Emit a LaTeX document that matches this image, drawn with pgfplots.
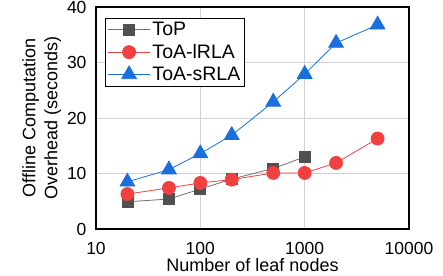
\documentclass[border=0pt]{standalone}
\usepackage{pgfplots}
\pgfplotsset{compat=1.18}
\usepackage{fontspec}
\setmainfont{Liberation Sans}
\definecolor{cTop}{HTML}{505050}
\definecolor{cTopL}{HTML}{707070}
\definecolor{cRed}{HTML}{F04040}
\definecolor{cBlue}{HTML}{1A6FDF}
\begin{document}
\begin{tikzpicture}[font=\fontsize{17.5}{21}\selectfont]
\begin{axis}[
  scale only axis, width=313pt, height=222pt,
  xmode=log, xmin=10, xmax=10000, ymin=0, ymax=40,
  xtick={10,100,1000,10000}, xticklabels={10,100,1000,10000},
  ytick={0,10,20,30,40},
  /pgf/number format/assume math mode=true,
  major tick length=0pt, minor tick length=0pt,
  xminorgrids=false, grid=major,
  major grid style={gray!35, line width=0.8pt},
  axis line style={black, line width=1.6pt},
  xticklabel style={anchor=base, yshift=-25pt, inner sep=0pt},
  yticklabel style={xshift=-6pt},
  xlabel={Number of leaf nodes},
  xlabel style={at={(axis description cs:0.5,0)}, anchor=base, yshift=-42pt, inner sep=0pt, font=\fontsize{18}{21}\selectfont},
  ylabel={Offline Computation\\Overhead (seconds)},
  ylabel style={align=center, yshift=-1pt, font=\fontsize{18}{22}\selectfont},
  legend style={at={(0.03,0.95)}, anchor=north west, draw=black, line width=0.6pt,
    nodes={font=\fontsize{19.5}{23}\selectfont}, inner sep=2pt, row sep=3pt},
  legend cell align=left,
  legend image code/.code={\draw[mark repeat=2,mark phase=2] plot coordinates {(0pt,0pt) (21pt,0pt) (42pt,0pt)};},
]
\addplot[color=cTopL, line width=0.8pt, mark=square*, mark size=5.5pt, mark options={fill=cTop, draw=cTop}]
  coordinates {(20,4.9) (50,5.4) (100,7.2) (200,9.0) (500,10.9) (1000,13.0)};
\addlegendentry{ToP}
\addplot[color=cRed, line width=0.8pt, mark=*, mark size=6.5pt, mark options={fill=cRed, draw=cRed}]
  coordinates {(20,6.3) (50,7.4) (100,8.3) (200,8.9) (500,10.1) (1000,10.1) (2000,11.9) (5000,16.3)};
\addlegendentry{ToA-lRLA}
\addplot[color=cBlue, line width=0.8pt, mark=triangle*, mark size=8.5pt, mark options={fill=cBlue, draw=cBlue}]
  coordinates {(20,8.5) (50,10.7) (100,13.6) (200,16.9) (500,22.9) (1000,27.9) (2000,33.5) (5000,36.8)};
\addlegendentry{ToA-sRLA}
\end{axis}
\pgfresetboundingbox
\path[use as bounding box] ([xshift=-96pt,yshift=-46pt]current axis.south west) rectangle ([xshift=34pt,yshift=7pt]current axis.north east);
\end{tikzpicture}
\end{document}
